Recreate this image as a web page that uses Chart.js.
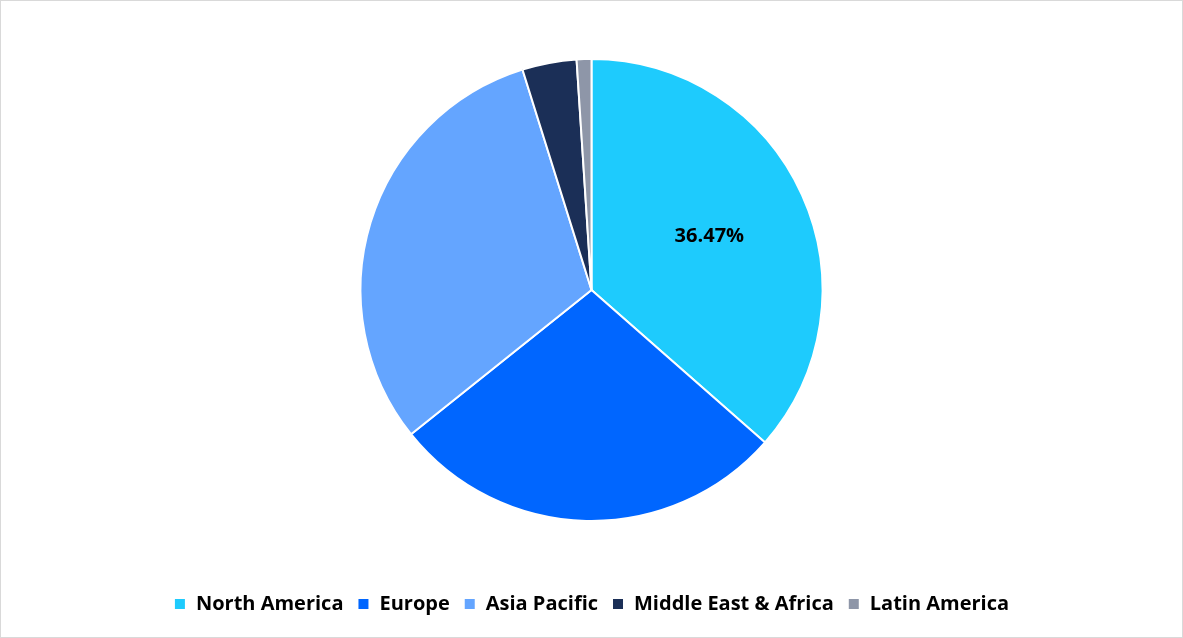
<!DOCTYPE html>
<html>
<head>
<meta charset="utf-8">
<script src="https://cdn.jsdelivr.net/npm/chart.js@4"></script>
<style>
  html, body { margin: 0; padding: 0; background: #fff; }
  .wrap { width: 1181px; height: 636px; border: 1px solid #d9d9d9; position: relative; }
</style>
</head>
<body>
<div class="wrap"><canvas id="chart" width="1181" height="636"></canvas></div>
<script>
const regions = ["North America", "Europe", "Asia Pacific", "Middle East & Africa", "Latin America"];
const shares = [36.47, 27.8, 30.9, 3.8, 1.03];
const colors = ["#1ecbfd", "#0066ff", "#64a5ff", "#1b2f57", "#8e96a8"];
const shownLabels = ["36.47%", "", "", "", ""];

const labelPlugin = {
  id: "sliceLabel",
  afterDatasetsDraw(chart) {
    const ctx = chart.ctx;
    chart.getDatasetMeta(0).data.forEach((arc, i) => {
      if (!shownLabels[i]) return;
      const mid = (arc.startAngle + arc.endAngle) / 2;
      const r = arc.outerRadius * 0.56;
      ctx.save();
      ctx.font = "bold 20px 'Open Sans', sans-serif";
      ctx.fillStyle = "#000";
      ctx.textAlign = "center";
      ctx.textBaseline = "middle";
      ctx.fillText(shownLabels[i], arc.x + Math.cos(mid) * r, arc.y + Math.sin(mid) * r);
      ctx.restore();
    });
  }
};

// tall legend box so the pie sits higher; items drawn lower inside it
const legendHeight = {
  id: "legendHeight",
  beforeInit(chart) {
    const lg = chart.legend;
    const fit = lg.fit;
    lg.fit = function () {
      fit.call(this);
      this.height = 107;
    };
    const draw = lg.draw;
    lg.draw = function () {
      this.ctx.save();
      this.ctx.translate(0, 58);
      draw.call(this);
      this.ctx.restore();
    };
  }
};

new Chart(document.querySelector("#chart").getContext("2d"), {
  type: "pie",
  data: {
    labels: regions,
    datasets: [{ data: shares, backgroundColor: colors, borderColor: "#fff", borderWidth: 2 }]
  },
  options: {
    responsive: false,
    animation: false,
    layout: { padding: { top: 57, bottom: 8 } },
    plugins: {
      tooltip: { enabled: false },
      legend: {
        position: "bottom",
        labels: {
          boxWidth: 12, boxHeight: 12, padding: 14,
          color: "#000",
          font: { family: "'Open Sans', sans-serif", size: 20, weight: "bold" }
        }
      }
    }
  },
  plugins: [labelPlugin, legendHeight]
});
</script>
</body>
</html>
